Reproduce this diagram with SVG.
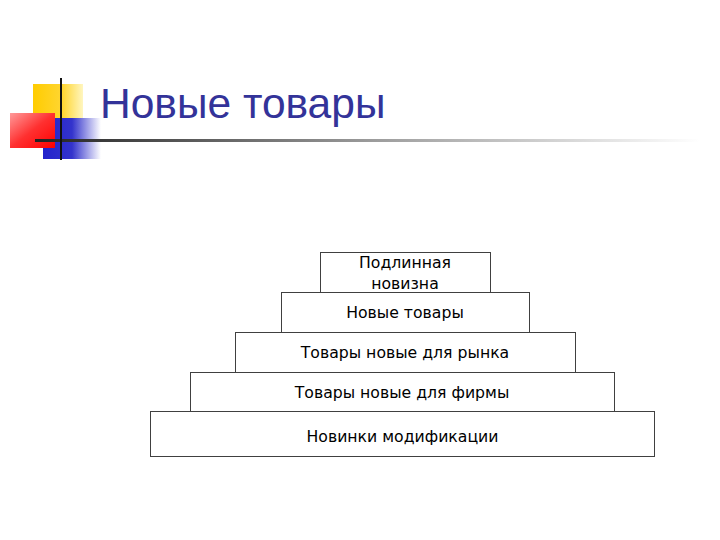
<svg xmlns="http://www.w3.org/2000/svg" width="720" height="540" viewBox="0 0 720 540">
<defs>
<linearGradient id="yel" x1="0" y1="0" x2="1" y2="0">
<stop offset="0" stop-color="#ffcc00"/><stop offset="0.6" stop-color="#ffd633"/><stop offset="1" stop-color="#fff6c0"/>
</linearGradient>
<linearGradient id="red" x1="0" y1="0" x2="1" y2="1">
<stop offset="0" stop-color="#ff9a9a"/><stop offset="0.5" stop-color="#ff3030"/><stop offset="1" stop-color="#ff0000"/>
</linearGradient>
<linearGradient id="blu" x1="0" y1="0" x2="1" y2="0">
<stop offset="0" stop-color="#2222cc"/><stop offset="0.5" stop-color="#3333cc"/><stop offset="1" stop-color="#ffffff"/>
</linearGradient>
<linearGradient id="line" x1="0" y1="0" x2="1" y2="0">
<stop offset="0" stop-color="#222222"/><stop offset="0.5" stop-color="#9a9a9a"/><stop offset="1" stop-color="#ffffff"/>
</linearGradient>
<style>
.box{fill:#ffffff;stroke:#404040;stroke-width:1}
.lbl{font-family:"DejaVu Sans",Verdana,sans-serif;font-size:15.7px;fill:#000000;text-anchor:middle}
</style>
</defs>
<g id="decor">
<rect x="33" y="84" width="50" height="46" fill="url(#yel)"/>
<rect x="43" y="118" width="58" height="41" fill="url(#blu)"/>
<rect x="10" y="113" width="45" height="35" fill="url(#red)"/>
<rect x="35" y="139" width="665" height="3" fill="url(#line)"/>
<rect x="60" y="78" width="2" height="82" fill="#111111"/>
</g>
<text id="title" x="100" y="118" font-family="'Liberation Sans',Arial,sans-serif" font-size="42.5" fill="#333399">Новые товары</text>
<g id="n5"><rect class="box" x="150.5" y="411.5" width="504" height="45"/><text class="lbl" x="402.5" y="442">Новинки модификации</text></g>
<g id="n4"><rect class="box" x="190.5" y="372.5" width="424" height="39"/><text class="lbl" x="402" y="398">Товары новые для фирмы</text></g>
<g id="n3"><rect class="box" x="235.5" y="332.5" width="340" height="40"/><text class="lbl" x="405" y="358">Товары новые для рынка</text></g>
<g id="n2"><rect class="box" x="281.5" y="292.5" width="248" height="40"/><text class="lbl" x="405" y="318">Новые товары</text></g>
<g id="n1"><rect class="box" x="320.5" y="252.5" width="170" height="40"/><text class="lbl" x="405" y="268">Подлинная</text><text class="lbl" x="405" y="289">новизна</text></g>
<g id="connectors"/>
</svg>
